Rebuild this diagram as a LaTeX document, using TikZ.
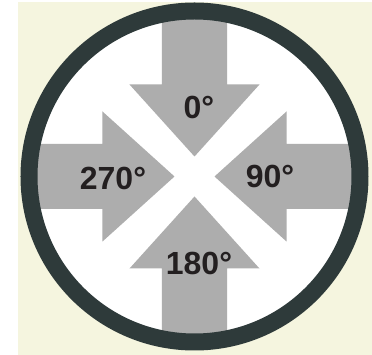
\documentclass[tikz,border=0pt]{standalone}
\usepackage{fontspec}
\setmainfont{Liberation Sans}
\usepackage{tikz}
\usetikzlibrary{positioning}
\definecolor{PanelCream}{HTML}{F5F5DF}
\definecolor{RingSlate}{HTML}{2E3A3A}
\definecolor{ArrowGray}{HTML}{ADADAD}
\definecolor{LabelInk}{HTML}{231F20}
\tikzset{
  dialface/.style={circle,fill=white,minimum size=331pt,inner sep=0pt},
  dialring/.style={draw=RingSlate,line width=17pt},
  arrowfill/.style={fill=ArrowGray},
  inarrow/.pic={
    \fill[arrowfill] (0,20) -- (65,92) -- (32.5,92) -- (32.5,190)
      -- (-32.5,190) -- (-32.5,92) -- (-65,92) -- cycle;
  },
  deglabel/.style={inner sep=0pt,text=LabelInk,
    font=\fontsize{32}{36}\selectfont\bfseries},
}
\begin{document}
\begin{tikzpicture}[x=1pt,y=1pt]
  \useasboundingbox (-194.5,-178.5) rectangle (177.5,176.5);
  \fill[PanelCream] (-176.5,-178.5) rectangle (177.5,174.5);
  \node[dialface] (dial) at (0,0) {};
  \begin{scope}
    \clip (dial.center) circle[radius=160];
    \pic at (dial.center) {inarrow};
    \pic[rotate=-90] at (dial.center) {inarrow};
    \pic[rotate=180] at (dial.center) {inarrow};
    \pic[rotate=90] at (dial.center) {inarrow};
  \end{scope}
  \draw[dialring] (dial.center) circle[radius=165.5];
  \node[deglabel] (deg0) at (4.5,69.5) {0°};
  \node[deglabel] (deg90) at (75.5,0) {90°};
  \node[deglabel] (deg180) at (4.5,-86.5) {180°};
  \node[deglabel] (deg270) at (-81.5,-2) {270°};
\end{tikzpicture}
\end{document}
